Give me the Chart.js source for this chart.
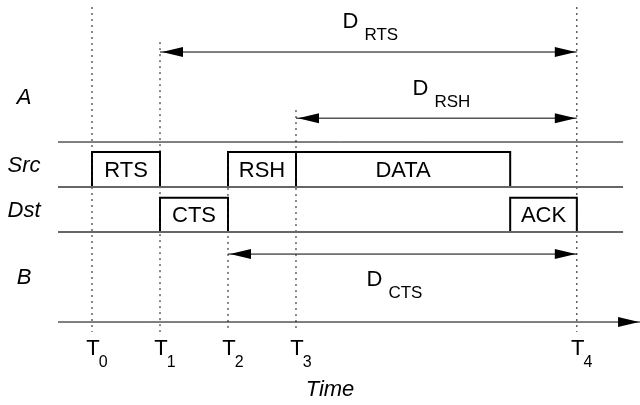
<!DOCTYPE html>
<html>
<head>
<meta charset="utf-8">
<script src="https://cdn.jsdelivr.net/npm/chart.js@4/dist/chart.umd.min.js"></script>
<style>
html, body { margin: 0; padding: 0; background: #fff; }
#wrap { width: 640px; height: 405px; }
</style>
</head>
<body>
<div id="wrap"><canvas id="timing" width="640" height="405"></canvas></div>
<script>
// time instants T0..T4 on the time axis
const markerNames = ['0', '1', '2', '3', '4'];
const markerTimes = [0, 1, 2, 3, 7.13];
// top of each dotted guide (lane units), all end just under the axis
const markerTops = [7, 6.22, 3.78, 4.71, 7];
const markerBottom = -0.22;

// lanes, bottom of the picture is the time axis at level 0
const laneNames = ['A', 'Src', 'Dst', 'B'];
const laneLevels = [5, 3.5, 2.5, 1];
const laneBorders = [4, 3, 2];

// frames sent by the source
const srcFrames = ['RTS', 'RSH', 'DATA'];
const srcStart = [0, 2, 3];
const srcEnd = [1, 3, 6.15];

// frames sent by the destination
const dstFrames = ['CTS', 'ACK'];
const dstStart = [1, 6.15];
const dstEnd = [2, 7.13];

// deferral durations D_xxx
const navNames = ['RTS', 'RSH', 'CTS'];
const navStart = [1, 3, 2];
const navEnd = [7.13, 7.13, 7.13];
const navLevel = [6, 4.53, 1.51];

const FONT = "'Liberation Sans', Arial, Helvetica, sans-serif";

function lineSet(points, opts) {
    return Object.assign({
        data: points,
        showLine: true,
        pointRadius: 0,
        borderColor: '#000',
        borderWidth: 1,
        fill: false,
        tension: 0
    }, opts || {});
}

function frameSet(start, end, bottom, height) {
    return lineSet([
        { x: start, y: bottom }, { x: start, y: bottom + height },
        { x: end, y: bottom + height }, { x: end, y: bottom },
        { x: start, y: bottom }
    ], { borderWidth: 2, borderJoinStyle: 'miter' });
}

const datasets = [];

// lane separators
laneBorders.forEach((lvl, i) => {
    datasets.push(lineSet([{ x: -0.5, y: lvl }, { x: 7.81, y: lvl }], i === 0
        ? { borderColor: '#000', borderWidth: 1 }
        : { borderColor: '#666', borderWidth: 2 }));
});

// dotted guides at each instant
markerTimes.forEach((t, i) => {
    datasets.push(lineSet([{ x: t, y: markerTops[i] }, { x: t, y: markerBottom }],
        { borderColor: '#111', borderWidth: 1, borderDash: [2, 4] }));
});

// frames
srcFrames.forEach((f, i) => datasets.push(frameSet(srcStart[i], srcEnd[i], 3, 0.78)));
dstFrames.forEach((f, i) => datasets.push(frameSet(dstStart[i], dstEnd[i], 2, 0.76)));

// duration arrows
navNames.forEach((n, i) => {
    datasets.push(lineSet([{ x: navStart[i], y: navLevel[i] }, { x: navEnd[i], y: navLevel[i] }],
        { arrowStart: true, arrowEnd: true }));
});

// time axis
datasets.push(lineSet([{ x: -0.5, y: 0 }, { x: 8.06, y: 0 }], { arrowEnd: true }));

const arrowPlugin = {
    id: 'arrowHeads',
    afterDatasetsDraw(chart) {
        const ctx = chart.ctx;
        chart.data.datasets.forEach((ds, di) => {
            if (!ds.arrowStart && !ds.arrowEnd) return;
            const pts = chart.getDatasetMeta(di).data;
            const a = pts[0], b = pts[pts.length - 1];
            const head = (tip, from) => {
                const ang = Math.atan2(tip.y - from.y, tip.x - from.x);
                const len = 21, half = 5;
                ctx.save();
                ctx.translate(tip.x, tip.y);
                ctx.rotate(ang);
                ctx.beginPath();
                ctx.moveTo(0, 0);
                ctx.lineTo(-len, -half);
                ctx.lineTo(-len, half);
                ctx.closePath();
                ctx.fillStyle = '#000';
                ctx.fill();
                ctx.restore();
            };
            if (ds.arrowStart) head({ x: a.x + 2, y: a.y }, b);
            if (ds.arrowEnd) head({ x: b.x - 1, y: b.y }, a);
        });
    }
};

const textPlugin = {
    id: 'diagramText',
    afterDraw(chart) {
        const ctx = chart.ctx;
        const xs = chart.scales.x, ys = chart.scales.y;
        ctx.save();
        ctx.fillStyle = '#000';
        ctx.textBaseline = 'middle';

        // frame labels
        ctx.font = '22px ' + FONT;
        ctx.textAlign = 'center';
        srcFrames.forEach((f, i) => {
            ctx.fillText(f, xs.getPixelForValue((srcStart[i] + srcEnd[i]) / 2), ys.getPixelForValue(3.39) + 1);
        });
        dstFrames.forEach((f, i) => {
            ctx.fillText(f, xs.getPixelForValue((dstStart[i] + dstEnd[i]) / 2), ys.getPixelForValue(2.38) + 1);
        });

        // lane names
        ctx.font = 'italic 22px ' + FONT;
        laneNames.forEach((n, i) => {
            ctx.fillText(n, xs.getPixelForValue(-1.0), ys.getPixelForValue(laneLevels[i]) + 1);
        });
        ctx.fillText('Time', xs.getPixelForValue(3.5), ys.getPixelForValue(-1.5));

        // T_i labels under the axis
        const axisY = ys.getPixelForValue(0);
        markerNames.forEach((n, i) => {
            const x = xs.getPixelForValue(markerTimes[i]);
            ctx.font = '22px ' + FONT;
            ctx.textAlign = 'center';
            ctx.fillText('T', x + 1, axisY + 27);
            const w = ctx.measureText('T').width;
            ctx.font = '16px ' + FONT;
            ctx.textAlign = 'left';
            ctx.fillText(n, x + w / 2, axisY + 41);
        });

        // D_xxx labels near the duration arrows
        const offs = [[-26, -30], [-24, -29], [-36, 26]];
        navNames.forEach((n, i) => {
            const mid = xs.getPixelForValue((navStart[i] + navEnd[i]) / 2);
            const x = mid + offs[i][0];
            const y = ys.getPixelForValue(navLevel[i]) + offs[i][1];
            ctx.font = '22px ' + FONT;
            ctx.textAlign = 'left';
            ctx.fillText('D', x, y);
            const w = ctx.measureText('D ').width;
            ctx.font = '17px ' + FONT;
            ctx.fillText(n, x + w, y + 13);
        });
        ctx.restore();
    }
};

new Chart(document.getElementById('timing'), {
    type: 'scatter',
    data: { datasets: datasets },
    options: {
        responsive: false,
        animation: false,
        events: [],
        layout: { padding: 0 },
        scales: {
            x: { type: 'linear', display: false, min: -1.353, max: 8.059 },
            y: { type: 'linear', display: false, min: -1.844, max: 7.156 }
        },
        plugins: {
            legend: { display: false },
            tooltip: { enabled: false }
        }
    },
    plugins: [arrowPlugin, textPlugin]
});
</script>
</body>
</html>
